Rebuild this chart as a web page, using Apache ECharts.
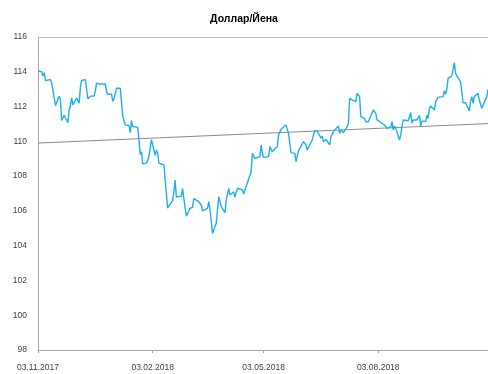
<!DOCTYPE html>
<html>
<head>
<meta charset="utf-8">
<script src="https://cdn.jsdelivr.net/npm/echarts@6/dist/echarts.min.js"></script>
<style>
  html, body { margin: 0; padding: 0; background: #fff; }
  #chart { width: 488px; height: 374px; }
</style>
</head>
<body>
<div id="chart"></div>
<script>
// торговые дни
var dates = [
  '2017-11-03',
  '2017-11-06','2017-11-07','2017-11-08','2017-11-09','2017-11-10',
  '2017-11-13','2017-11-14','2017-11-15','2017-11-16','2017-11-17',
  '2017-11-20','2017-11-21','2017-11-22','2017-11-23','2017-11-24',
  '2017-11-27','2017-11-28','2017-11-29','2017-11-30','2017-12-01',
  '2017-12-04','2017-12-05','2017-12-06','2017-12-07','2017-12-08',
  '2017-12-11','2017-12-12','2017-12-13','2017-12-14','2017-12-15',
  '2017-12-18','2017-12-19','2017-12-20','2017-12-21','2017-12-22',
  '2017-12-25','2017-12-26','2017-12-27','2017-12-28','2017-12-29',
  '2018-01-01','2018-01-02','2018-01-03','2018-01-04','2018-01-05',
  '2018-01-08','2018-01-09','2018-01-10','2018-01-11','2018-01-12',
  '2018-01-15','2018-01-16','2018-01-17','2018-01-18','2018-01-19',
  '2018-01-22','2018-01-23','2018-01-24','2018-01-25','2018-01-26',
  '2018-01-29','2018-01-30','2018-01-31','2018-02-01','2018-02-02',
  '2018-02-05','2018-02-06','2018-02-07','2018-02-08','2018-02-09',
  '2018-02-12','2018-02-13','2018-02-14','2018-02-15','2018-02-16',
  '2018-02-19','2018-02-20','2018-02-21','2018-02-22','2018-02-23',
  '2018-02-26','2018-02-27','2018-02-28','2018-03-01','2018-03-02',
  '2018-03-05','2018-03-06','2018-03-07','2018-03-08','2018-03-09',
  '2018-03-12','2018-03-13','2018-03-14','2018-03-15','2018-03-16',
  '2018-03-19','2018-03-20','2018-03-21','2018-03-22','2018-03-23',
  '2018-03-26','2018-03-27','2018-03-28','2018-03-29','2018-03-30',
  '2018-04-02','2018-04-03','2018-04-04','2018-04-05','2018-04-06',
  '2018-04-09','2018-04-10','2018-04-11','2018-04-12','2018-04-13',
  '2018-04-16','2018-04-17','2018-04-18','2018-04-19','2018-04-20',
  '2018-04-23','2018-04-24','2018-04-25','2018-04-26','2018-04-27',
  '2018-04-30','2018-05-01','2018-05-02','2018-05-03','2018-05-04',
  '2018-05-07','2018-05-08','2018-05-09','2018-05-10','2018-05-11',
  '2018-05-14','2018-05-15','2018-05-16','2018-05-17','2018-05-18',
  '2018-05-21','2018-05-22','2018-05-23','2018-05-24','2018-05-25',
  '2018-05-28','2018-05-29','2018-05-30','2018-05-31','2018-06-01',
  '2018-06-04','2018-06-05','2018-06-06','2018-06-07','2018-06-08',
  '2018-06-11','2018-06-12','2018-06-13','2018-06-14','2018-06-15',
  '2018-06-18','2018-06-19','2018-06-20','2018-06-21','2018-06-22',
  '2018-06-25','2018-06-26','2018-06-27','2018-06-28','2018-06-29',
  '2018-07-02','2018-07-03','2018-07-04','2018-07-05','2018-07-06',
  '2018-07-09','2018-07-10','2018-07-11','2018-07-12','2018-07-13',
  '2018-07-16','2018-07-17','2018-07-18','2018-07-19','2018-07-20',
  '2018-07-23','2018-07-24','2018-07-25','2018-07-26','2018-07-27',
  '2018-07-30','2018-07-31','2018-08-01','2018-08-02','2018-08-03',
  '2018-08-06','2018-08-07','2018-08-08','2018-08-09','2018-08-10',
  '2018-08-13','2018-08-14','2018-08-15','2018-08-16','2018-08-17',
  '2018-08-20','2018-08-21','2018-08-22','2018-08-23','2018-08-24',
  '2018-08-27','2018-08-28','2018-08-29','2018-08-30','2018-08-31',
  '2018-09-03','2018-09-04','2018-09-05','2018-09-06','2018-09-07',
  '2018-09-10','2018-09-11','2018-09-12','2018-09-13','2018-09-14',
  '2018-09-17','2018-09-18','2018-09-19','2018-09-20','2018-09-21',
  '2018-09-24','2018-09-25','2018-09-26','2018-09-27','2018-09-28',
  '2018-10-01','2018-10-02','2018-10-03','2018-10-04','2018-10-05',
  '2018-10-08','2018-10-09','2018-10-10','2018-10-11','2018-10-12',
  '2018-10-15','2018-10-16','2018-10-17','2018-10-18','2018-10-19',
  '2018-10-22','2018-10-23','2018-10-24','2018-10-25','2018-10-26',
  '2018-10-29','2018-10-30'
];

// курс доллар/йена
var usdJpy = [
  114.05,
  114.0, 113.75, 113.95, 113.5, 113.55,
  113.55, 113.35, 112.95, 113.05, 112.05,
  112.6, 112.4, 111.2, 111.25, 111.5,
  111.07, 111.8, 112.05, 112.5, 112.1,
  112.5, 112.55, 112.2, 113.1, 113.5,
  113.55, 113.5, 112.45, 112.5, 112.6,
  112.6, 112.9, 113.35, 113.3, 113.3,
  113.3, 113.2, 113.3, 112.85, 112.7,
  112.72, 112.3, 112.45, 112.76, 113.05,
  113.05, 113.0, 111.45, 111.2, 110.95,
  110.9, 110.5, 111.2, 110.85, 110.8,
  110.8, 110.1, 109.25, 109.4, 108.7,
  108.75, 108.9, 109.15, 109.2, 110.1,
  109.2, 109.5, 109.3, 108.75, 108.75,
  108.65, 107.8, 107.0, 106.15, 106.28,
  106.6, 107.1, 107.78, 106.8, 106.8,
  106.85, 107.3, 106.7, 106.2, 105.7,
  106.15, 106.1, 106.2, 106.7, 106.8,
  106.53, 106.47, 106.34, 106.0, 106.0,
  106.15, 106.53, 106.05, 105.38, 104.71,
  105.29, 105.19, 106.82, 106.53, 106.25,
  105.9, 106.63, 106.68, 107.3, 106.91,
  107.1, 106.8, 106.72, 107.3, 107.3,
  107.2, 106.97, 107.2, 107.3, 107.62,
  108.25, 109.31, 109.27, 109.02, 109.02,
  109.12, 109.79, 109.31, 109.08, 109.1,
  109.12, 109.7, 109.7, 109.4, 109.4,
  109.7, 110.37, 110.4, 110.69, 110.7,
  110.94, 111.04, 110.46, 109.89, 109.35,
  109.31, 108.83, 108.83, 109.46, 109.5,
  109.98, 110.08, 109.79, 109.5, 109.46,
  110.08, 110.37, 110.61, 110.61, 110.6,
  110.18, 110.3, 109.98, 109.98, 110.12,
  109.79, 110.27, 110.4, 110.56, 110.61,
  110.88, 110.46, 110.65, 110.6, 110.5,
  110.84, 111.04, 112.47, 112.38, 112.38,
  112.28, 112.76, 112.82, 112.57, 111.42,
  111.32, 111.13, 111.04, 111.13, 111.13,
  111.8, 111.84, 111.61, 111.23, 111.32,
  111.04, 111.07, 110.94, 110.9, 110.75,
  110.84, 111.13, 110.65, 110.88, 110.75,
  110.08, 110.37, 110.84, 111.23, 111.23,
  111.18, 111.27, 111.65, 111.04, 111.23,
  111.23, 111.32, 111.5, 110.84, 111.18,
  111.13, 111.5, 111.32, 111.9, 112.03,
  111.8, 112.28, 112.38, 112.53, 112.53,
  112.57, 112.91, 112.72, 112.99, 113.62,
  113.76, 113.72, 114.52, 113.91, 113.76,
  113.43, 112.86, 112.22, 112.18, 112.22,
  111.75, 112.28, 112.57, 112.18, 112.57,
  112.76, 112.38, 112.28, 111.9, 111.9,
  112.57, 112.99
];

// линейный тренд
var trendDates = ['2017-11-03', '2018-10-30'];
var trendValues = [109.9, 111.02];

// подписи оси X
var xTickDates = ['2017-11-03', '2018-02-03', '2018-05-03', '2018-08-03'];
var yTicks = [98, 100, 102, 104, 106, 108, 110, 112, 114, 116];

function toTs(s) {
    return Date.parse(s + 'T00:00:00Z');
}
function pad(n) {
    return (n < 10 ? '0' : '') + n;
}
function fmtDate(ts) {
    var d = new Date(ts);
    return pad(d.getUTCDate()) + '.' + pad(d.getUTCMonth() + 1) + '.' + d.getUTCFullYear();
}

var lineData = dates.map(function (d, i) { return [toTs(d), usdJpy[i]]; });
var trendData = trendDates.map(function (d, i) { return [toTs(d), trendValues[i]]; });
var xTicks = xTickDates.map(toTs);
var xMin = toTs(dates[0]);
var xMax = toTs(dates[dates.length - 1]);

var myChart = echarts.init(document.getElementById('chart'));

var option = {
    animation: false,
    title: {
        text: 'Доллар/Йена',
        left: 'center',
        top: 9,
        textStyle: {
            fontFamily: 'Liberation Sans, Arial',
            fontSize: 10.5,
            fontWeight: 'bold',
            color: '#000'
        }
    },
    grid: {
        left: 38,
        right: 0,
        top: 37,
        bottom: 24,
        outerBoundsMode: 'none'
    },
    // ось дат как числовая (метки времени)
    xAxis: [
        {
            type: 'value',
            min: xMin,
            max: xMax,
            axisLine: { show: true, lineStyle: { color: '#a6a6a6', width: 1 } },
            axisTick: {
                show: true,
                length: 3,
                customValues: xTicks,
                lineStyle: { color: '#a6a6a6' }
            },
            splitLine: { show: false },
            axisLabel: {
                customValues: xTicks,
                margin: 13,
                fontFamily: 'Liberation Sans, Arial',
                fontSize: 8.5,
                color: '#404040',
                formatter: function (val) { return fmtDate(val); }
            }
        },
        {
            // верхняя граница области построения
            type: 'value',
            position: 'top',
            min: xMin,
            max: xMax,
            axisLine: { show: true, lineStyle: { color: '#c0c0c0', width: 1 } },
            axisTick: { show: false },
            axisLabel: { show: false },
            splitLine: { show: false }
        }
    ],
    yAxis: {
        type: 'value',
        min: yTicks[0],
        max: yTicks[yTicks.length - 1],
        interval: 2,
        axisLine: { show: true, lineStyle: { color: '#a6a6a6', width: 1 } },
        axisTick: { show: false },
        splitLine: { show: false },
        axisLabel: {
            margin: 11,
            fontFamily: 'Liberation Sans, Arial',
            fontSize: 8.5,
            color: '#404040'
        }
    },
    series: [
        {
            name: 'Доллар/Йена',
            type: 'line',
            data: lineData,
            showSymbol: false,
            symbol: 'none',
            lineStyle: { color: '#1cb0f0', width: 1.4 },
            z: 3
        },
        {
            name: 'Тренд',
            type: 'line',
            data: trendData,
            showSymbol: false,
            symbol: 'none',
            lineStyle: { color: '#8c8c8c', width: 1 },
            z: 2
        }
    ]
};

myChart.setOption(option);
</script>
</body>
</html>
